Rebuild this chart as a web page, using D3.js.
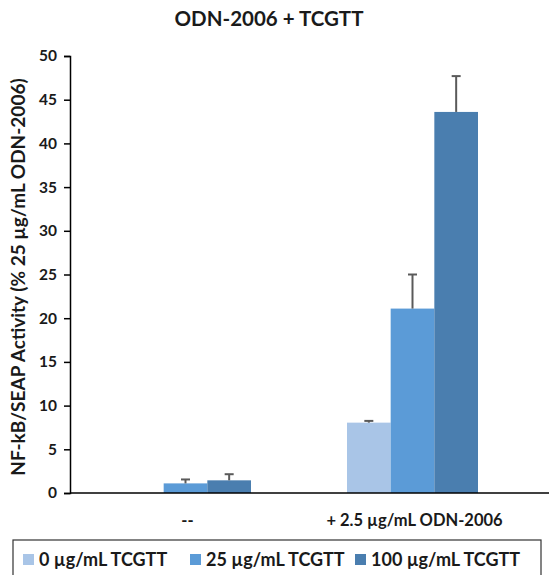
<!DOCTYPE html>
<html>
<head>
<meta charset="utf-8">
<script src="https://cdn.jsdelivr.net/npm/d3@7"></script>
<style>
  body { margin: 0; background: #fff; }
  text { font-family: Lato, "Open Sans", sans-serif; font-weight: bold; fill: #1a1a1a; }
</style>
</head>
<body>
<svg id="chart" width="549" height="575"></svg>
<script>
// data
const categories = ['--', '+ 2.5 µg/mL ODN-2006'];
const series = ['0 µg/mL TCGTT', '25 µg/mL TCGTT', '100 µg/mL TCGTT'];
const values = [
  [0, 1.1, 1.45],
  [8.05, 21.1, 43.6]
];
const errors = [
  [0, 0.45, 0.7],
  [0.2, 3.9, 4.1]
];
const yTicks = [0, 5, 10, 15, 20, 25, 30, 35, 40, 45, 50];
const colors = ['#A9C5E7', '#5B9BD7', '#4A7EAF'];

const svg = d3.select('#chart');
const plotLeft = 70, plotTop = 56, plotBottom = 493;

const y = d3.scaleLinear().domain([0, 50]).range([plotBottom, plotTop]);
const x0 = d3.scaleBand().domain(categories).range([72, 526]);
const x1 = d3.scaleBand().domain(series).range([-65.5, 65.5]);

// title
svg.append('text')
  .attr('x', 269).attr('y', 26)
  .attr('text-anchor', 'middle')
  .style('font-size', '20.5px')
  .text('ODN-2006 + TCGTT');

// y label
svg.append('text')
  .attr('transform', `translate(25, 277) rotate(-90)`)
  .attr('text-anchor', 'middle')
  .style('font-size', '19px')
  .text('NF-kB/SEAP Activity (% 25 µg/mL ODN-2006)');

// y axis
const yAxis = svg.append('g')
  .attr('transform', `translate(${plotLeft},0)`)
  .call(d3.axisLeft(y).tickValues(yTicks).tickSize(6).tickSizeOuter(6).tickPadding(7));
yAxis.selectAll('path, line').attr('stroke', '#000').attr('stroke-width', 1.5);
yAxis.selectAll('text').style('font-size', '15.5px').style('font-family', 'Lato, sans-serif');

// bars
const groups = svg.append('g').selectAll('g')
  .data(categories)
  .join('g')
  .attr('transform', d => `translate(${x0(d) + x0.bandwidth() / 2},0)`);

groups.selectAll('rect')
  .data((d, i) => series.map((s, j) => ({ s, j, v: values[i][j], e: errors[i][j] })))
  .join('rect')
  .attr('x', d => x1(d.s))
  .attr('y', d => y(d.v))
  .attr('width', x1.bandwidth())
  .attr('height', d => y(0) - y(d.v))
  .attr('fill', d => colors[d.j]);

// error bars
const err = groups.selectAll('g.err')
  .data((d, i) => series.map((s, j) => ({ s, j, v: values[i][j], e: errors[i][j] })).filter(d => d.v > 0))
  .join('g')
  .attr('class', 'err')
  .attr('stroke', '#5a5a5a')
  .attr('stroke-width', 2);
err.append('line')
  .attr('x1', d => x1(d.s) + x1.bandwidth() / 2)
  .attr('x2', d => x1(d.s) + x1.bandwidth() / 2)
  .attr('y1', d => y(d.v))
  .attr('y2', d => y(d.v + d.e));
err.append('line')
  .attr('x1', d => x1(d.s) + x1.bandwidth() / 2 - 4.5)
  .attr('x2', d => x1(d.s) + x1.bandwidth() / 2 + 4.5)
  .attr('y1', d => y(d.v + d.e))
  .attr('y2', d => y(d.v + d.e));

// x axis line
svg.append('line')
  .attr('x1', plotLeft).attr('x2', 549)
  .attr('y1', y(0)).attr('y2', y(0))
  .attr('stroke', '#000').attr('stroke-width', 1.5);

// x labels
svg.append('g').selectAll('text')
  .data(categories)
  .join('text')
  .attr('x', d => x0(d) + x0.bandwidth() / 2 + 2)
  .attr('y', 526)
  .attr('text-anchor', 'middle')
  .style('font-size', '16.5px')
  .text(d => d);

// legend
svg.append('rect')
  .attr('x', 13).attr('y', 540)
  .attr('width', 528).attr('height', 45)
  .attr('fill', 'none').attr('stroke', '#333').attr('stroke-width', 1.2);

const legX = [23, 190, 355];
const leg = svg.append('g').selectAll('g')
  .data(series)
  .join('g')
  .attr('transform', (d, i) => `translate(${legX[i]},554)`);
leg.append('rect')
  .attr('width', 11).attr('height', 11)
  .attr('fill', (d, i) => colors[i]);
leg.append('text')
  .attr('x', 16).attr('y', 12)
  .style('font-size', '18px')
  .text(d => d);
</script>
</body>
</html>
